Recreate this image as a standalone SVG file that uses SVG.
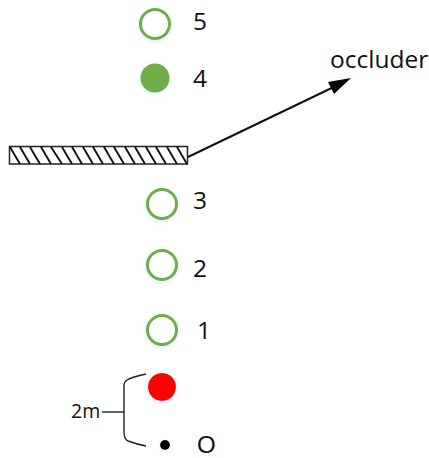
<svg xmlns="http://www.w3.org/2000/svg" width="429" height="458" viewBox="0 0 429 458">
<style>
.ring{fill:#fff;stroke:#70ad47;stroke-width:3}
text{font-family:"Open Sans","Noto Sans",sans-serif;font-size:24.500px;fill:#111}
.line{fill:none;stroke:#222;stroke-width:1.400}
.hatch{stroke:#111;stroke-width:1.900}
</style>
<defs>
<filter id="glow" x="-30%" y="-30%" width="160%" height="160%"><feDropShadow dx="0" dy="1.500" stdDeviation="2" flood-color="#bcd4ee" flood-opacity=".5"/></filter>
</defs>
<rect width="429" height="458" fill="#fff"/>
<g id="connectors">
<path d="M188 157L340 84" fill="none" stroke="#111" stroke-width="2"/>
<path d="M351 78L328 82L334 94Z" fill="#000"/>
<path class="line" d="M146 374Q132 377 127 380Q124 382 124 386V432Q124 439 128 441Q136 444 146 446"/>
<path class="line" d="M102 412H124"/>
</g>
<g id="occluder">
<rect x="9.500" y="146.500" width="178" height="17.500" fill="#fff" stroke="#222" stroke-width="1.500"/>
<path class="hatch" d="M10 147L20 164M20 147L30 164M30 147L40 164M41 147L51 164M51 147L62 164M62 147L72 164M72 147L82 164M83 147L93 164M93 147L103 164M104 147L114 164M114 147L124 164M125 147L135 164M135 147L145 164M146 147L156 164M156 147L166 164M167 147L177 164M177 147L187 164"/>
</g>
<g id="node5"><circle class="ring" cx="155" cy="24" r="14.500" filter="url(#glow)"/><text x="193" y="30">5</text></g>
<g id="node4"><circle cx="155" cy="78" r="14.500" fill="#70ad47" filter="url(#glow)"/><text x="193" y="87">4</text></g>
<g id="node3"><circle class="ring" cx="162" cy="204" r="14.500" filter="url(#glow)"/><text x="193" y="209">3</text></g>
<g id="node2"><circle class="ring" cx="162" cy="265" r="14.500" filter="url(#glow)"/><text x="193" y="277">2</text></g>
<g id="node1"><circle class="ring" cx="162" cy="330" r="14.500" filter="url(#glow)"/><text x="197" y="339">1</text></g>
<g id="nodeRed"><circle cx="162" cy="387" r="14" fill="#ff0000" filter="url(#glow)"/></g>
<g id="nodeO"><circle cx="165" cy="445" r="5" fill="#000" filter="url(#glow)"/><text x="197" y="452.500" style="font-family:'Liberation Sans',sans-serif;font-size:24px">O</text></g>
<g id="label2m"><text x="71" y="418" style="font-size:19.500px">2m</text></g>
<g id="labelOccluder"><text x="330" y="68">occluder</text></g>
</svg>
